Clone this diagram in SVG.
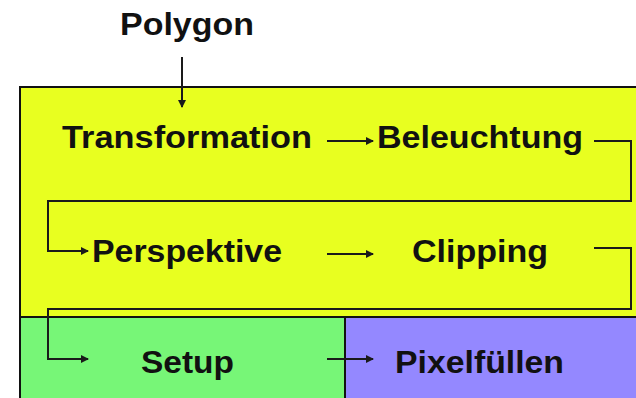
<svg xmlns="http://www.w3.org/2000/svg" width="636" height="398" viewBox="0 0 636 398">
  <style>
    .stage { stroke: #111; stroke-width: 2; }
    .label { font-family: "Liberation Sans", Arial, sans-serif; font-weight: bold; font-size: 31px; fill: #111; }
    .link { fill: none; stroke: #1a1a1a; stroke-width: 2; }
  </style>
  <defs>
    <marker id="head" viewBox="0 0 8 8" refX="7" refY="4" markerWidth="4" markerHeight="4" orient="auto" markerUnits="strokeWidth">
      <path d="M0,0 L8,4 L0,8 Z" fill="#1a1a1a"/>
    </marker>
  </defs>
  <rect width="636" height="398" fill="#ffffff"/>

  <!-- pipeline stage areas -->
  <g id="geometry-stage">
    <rect class="stage" x="20" y="87" width="630" height="230" fill="#e8ff20"/>
  </g>
  <g id="raster-setup-stage">
    <rect class="stage" x="20" y="317" width="325" height="90" fill="#77f677"/>
  </g>
  <g id="raster-fill-stage">
    <rect class="stage" x="345" y="317" width="300" height="90" fill="#9488ff"/>
  </g>

  <!-- nodes -->
  <g id="polygon"><text class="label" x="120" y="35" textLength="134" lengthAdjust="spacingAndGlyphs">Polygon</text></g>
  <g id="transformation"><text class="label" x="62" y="148" textLength="250" lengthAdjust="spacingAndGlyphs">Transformation</text></g>
  <g id="beleuchtung"><text class="label" x="377" y="148" textLength="206" lengthAdjust="spacingAndGlyphs">Beleuchtung</text></g>
  <g id="perspektive"><text class="label" x="92" y="262" textLength="190" lengthAdjust="spacingAndGlyphs">Perspektive</text></g>
  <g id="clipping"><text class="label" x="412" y="262" textLength="136" lengthAdjust="spacingAndGlyphs">Clipping</text></g>
  <g id="setup"><text class="label" x="141" y="373" textLength="93" lengthAdjust="spacingAndGlyphs">Setup</text></g>
  <g id="pixelfuellen"><text class="label" x="395" y="373" textLength="169" lengthAdjust="spacingAndGlyphs">Pixelfüllen</text></g>

  <!-- connectors -->
  <g id="connectors">
    <path class="link" d="M182,57 V107" marker-end="url(#head)"/>
    <path class="link" d="M327,141 H373" marker-end="url(#head)"/>
    <path class="link" d="M594,141 H631 V201 H48 V251 H88" marker-end="url(#head)"/>
    <path class="link" d="M327,254 H373" marker-end="url(#head)"/>
    <path class="link" d="M594,248 H631 V309 H48 V359 H88" marker-end="url(#head)"/>
    <path class="link" d="M327,359 H373" marker-end="url(#head)"/>
  </g>
</svg>
